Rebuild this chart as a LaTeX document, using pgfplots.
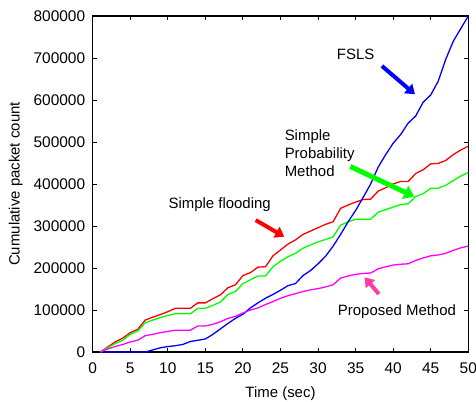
\documentclass[border=0pt]{standalone}
\usepackage{fontspec}
\setmainfont{Liberation Sans}
\usepackage{pgfplots}
\pgfplotsset{compat=1.18}
\usepackage{pgfplotstable}
\usetikzlibrary{arrows.meta}

% Cumulative packet counts per second for the four broadcast schemes
\pgfplotstableread{
t  flood  prob   fsls   prop
1  0      0      0      0
2  12000  10000  0      7000
3  24000  20000  0      13000
4  33000  28000  0      18000
5  46000  42000  0      24000
6  54000  50000  0      28000
7  76000  70000  0      39000
8  83000  76000  5000   42000
9  89000  82000  10000  46000
10 96000  87000  13000  49000
11 104000 91000  15000  52000
12 104000 91000  18000  52000
13 104000 91000  25000  52000
14 117000 104000 28000  62000
15 117000 104000 31000  62000
16 127000 111000 42000  66000
17 136000 119000 55000  72000
18 153000 137000 68000  80000
19 160000 144000 80000  85000
20 182000 163000 90000  93000
21 189000 172000 105000 100000
22 202000 181000 117000 105000
23 203000 181000 128000 113000
24 229000 203000 137000 120000
25 243000 216000 147000 128000
26 257000 227000 158000 134000
27 267000 235000 163000 139000
28 280000 247000 182000 144000
29 288000 255000 194000 148000
30 296000 262000 210000 151000
31 304000 268000 228000 155000
32 310000 274000 252000 160000
33 342000 302000 280000 176000
34 350000 310000 310000 181000
35 357000 316000 337000 185000
36 363000 316000 368000 187000
37 364000 316000 400000 188000
38 383000 333000 440000 198000
39 391000 339000 470000 203000
40 400000 345000 497000 207000
41 406000 351000 518000 209000
42 406000 353000 545000 210000
43 425000 370000 562000 218000
44 434000 377000 595000 224000
45 448000 390000 612000 229000
46 449000 390000 645000 231000
47 456000 397000 697000 235000
48 470000 408000 740000 242000
49 481000 419000 770000 248000
50 490000 427000 800000 252000
}\packets

\definecolor{pfred}{RGB}{255,0,0}
\definecolor{pfgreen}{RGB}{0,255,0}
\definecolor{pfblue}{RGB}{0,0,255}
\definecolor{pfmag}{RGB}{255,0,255}
\definecolor{pfpink}{RGB}{255,60,170}

\begin{document}
\begin{tikzpicture}
\path[use as bounding box] (-92.7bp,-50bp) rectangle (383.3bp,352bp);
\begin{axis}[
  at={(0,0)}, anchor=south west,
  scale only axis,
  width=375.6bp, height=336bp,
  xmin=0, xmax=50, ymin=0, ymax=800000,
  xtick={0,5,...,50},
  ytick={0,100000,...,800000},
  scaled y ticks=false,
  yticklabel style={/pgf/number format/fixed, /pgf/number format/1000 sep={}},
  /pgf/number format/assume math mode=true,
  tick align=inside,
  major tick length=4bp,
  tick style={line width=1bp, black},
  axis line style={line width=1.4bp},
  ticklabel style={font=\fontsize{15.5}{17}\selectfont},
  label style={font=\fontsize{15}{17}\selectfont},
  xticklabel style={yshift=-7bp},
  yticklabel style={xshift=-4bp},
  xlabel={Time (sec)},
  ylabel={Cumulative packet count},
  xlabel style={yshift=-6bp},
  ylabel style={yshift=4bp},
  clip=true,
]
\addplot[pfred, line width=1.3bp] table[x=t, y=flood] {\packets};
\addplot[pfgreen, line width=1.3bp] table[x=t, y=prob] {\packets};
\addplot[pfblue, line width=1.3bp] table[x=t, y=fsls] {\packets};
\addplot[pfmag, line width=1.3bp] table[x=t, y=prop] {\packets};

% annotations
\node[font=\fontsize{15}{17}\selectfont] at (axis cs:35.0,709500) {FSLS};
\draw[pfblue, line width=4bp, -{Triangle[length=9bp,width=12bp]}]
  (axis cs:38.5,681000) -- (axis cs:42.9,613600);

\node[font=\fontsize{15}{18}\selectfont, anchor=west, align=left]
  at (axis cs:25.1,473000) {Simple\\Probability\\Method};
\draw[pfgreen, line width=5bp, -{Triangle[length=10bp,width=14bp]}]
  (axis cs:34.3,441700) -- (axis cs:42.8,370000);

\node[font=\fontsize{15}{17}\selectfont] at (axis cs:16.9,351700) {Simple flooding};
\draw[pfred, line width=4bp, -{Triangle[length=9bp,width=12bp]}]
  (axis cs:21.7,314000) -- (axis cs:25.5,274500);

\node[font=\fontsize{15}{17}\selectfont] at (axis cs:40.5,96000) {Proposed Method};
\draw[pfpink, line width=4bp, -{Triangle[length=9bp,width=12bp]}]
  (axis cs:38.1,138000) -- (axis cs:36.2,177900);
\end{axis}
\end{tikzpicture}
\end{document}
